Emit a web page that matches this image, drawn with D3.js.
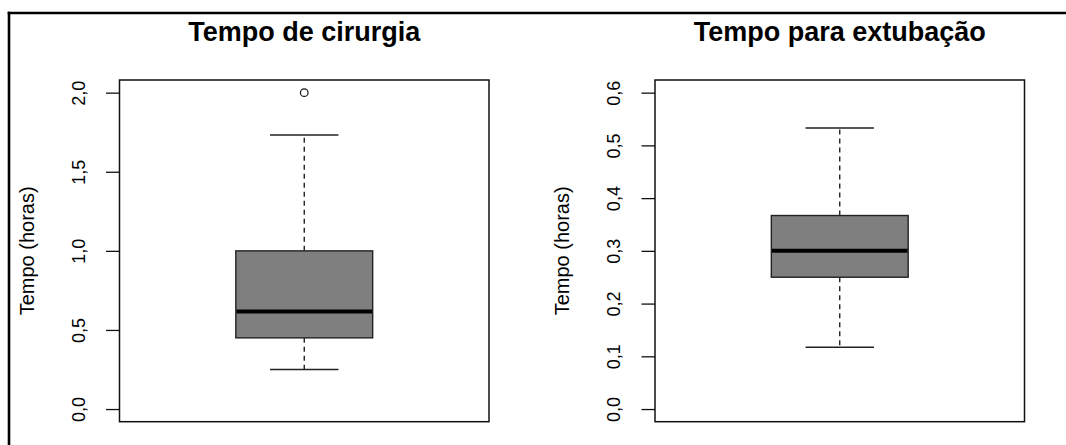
<!DOCTYPE html>
<head>
<meta charset="utf-8">
<style>
body, html {
  margin: 0;
  overflow: hidden;
  background: #fff;
  font-family: "Liberation Sans", Arial, sans-serif;
}
svg { display: block; }
.frame { stroke: #000; stroke-width: 2.6; }
.plotbox { fill: none; stroke: #111; stroke-width: 1.5; }
.tick line { stroke: #111; stroke-width: 1.3; }
.whisker { stroke: #111; stroke-width: 1.3; stroke-dasharray: 5,4; }
.cap { stroke: #222; stroke-width: 1.5; }
.box { fill: #7f7f7f; stroke: #222; stroke-width: 1.4; }
.median { stroke: #000; stroke-width: 4; }
.outlier { fill: none; stroke: #111; stroke-width: 1.2; }
</style>
<script src="https://d3js.org/d3.v7.min.js"></script>
</head>
<body>
<script>

//--------------------------------------
// values (hours)
var titles = ["Tempo de cirurgia", "Tempo para extubação"];
var yLabel = "Tempo (horas)";
var lowerWhisker = [0.25, 0.117];
var q1 = [0.45, 0.25];
var median = [0.617, 0.3];
var q3 = [1.0, 0.367];
var upperWhisker = [1.733, 0.533];
var outliers = [[2.0], []];
var yMax = [2.0, 0.6];
var yTicks = [[0, 0.5, 1.0, 1.5, 2.0], [0, 0.1, 0.2, 0.3, 0.4, 0.5, 0.6]];

//--------------------------------------
var width = 1066, height = 445;
var plotLeft = [119.5, 655],
    plotWidth = 369.5,
    plotTop = 80,
    plotBottom = 421.7;

var ptBR = d3.formatLocale({decimal: ",", thousands: ".", grouping: [3], currency: ["R$", ""]});
var fmt = ptBR.format(".1f");

var svg = d3.select("body").append("svg")
    .attr("width", width)
    .attr("height", height);

// border of the pasted figure: only top and left edges are inside the crop
svg.append("line").attr("class", "frame")
    .attr("x1", 9).attr("x2", 9)
    .attr("y1", 11.7).attr("y2", height);
svg.append("line").attr("class", "frame")
    .attr("x1", 7.7).attr("x2", width)
    .attr("y1", 13).attr("y2", 13);

//--------------------------------------
function drawPanel(i) {
  var x0 = plotLeft[i];
  var pad = yMax[i] * 0.04;

  var y = d3.scaleLinear()
      .domain([-pad, yMax[i] + pad])
      .range([plotBottom, plotTop]);
  var x = d3.scaleLinear()
      .domain([0.46, 1.54])
      .range([x0, x0 + plotWidth]);

  var g = svg.append("g");

  // title
  g.append("text")
      .attr("x", x(1))
      .attr("y", 41)
      .attr("text-anchor", "middle")
      .style("font-weight", "bold")
      .style("font-size", "27px")
      .text(titles[i]);

  // y axis
  var axis = d3.axisLeft(y)
      .tickValues(yTicks[i])
      .tickFormat(fmt)
      .tickSize(13.5)
      .tickPadding(0);
  var ax = g.append("g")
      .attr("transform", "translate(" + x0 + ",0)")
      .call(axis);
  ax.select(".domain").remove();
  ax.selectAll(".tick text")
      .attr("x", null).attr("dy", null)
      .attr("transform", "translate(-35,0) rotate(-90)")
      .attr("text-anchor", "middle")
      .attr("fill", "#000")
      .style("font-family", "'Liberation Sans', Arial, sans-serif")
      .style("font-size", "18px");

  g.append("text")
      .attr("transform", "translate(" + (x0 - 86) + "," + ((plotTop + plotBottom) / 2) + ") rotate(-90)")
      .attr("text-anchor", "middle")
      .style("font-size", "20px")
      .text(yLabel);

  // whiskers
  g.append("line").attr("class", "whisker")
      .attr("x1", x(1)).attr("x2", x(1))
      .attr("y1", y(q3[i])).attr("y2", y(upperWhisker[i]));
  g.append("line").attr("class", "whisker")
      .attr("x1", x(1)).attr("x2", x(1))
      .attr("y1", y(q1[i])).attr("y2", y(lowerWhisker[i]));
  [lowerWhisker[i], upperWhisker[i]].forEach(function(v) {
    g.append("line").attr("class", "cap")
        .attr("x1", x(0.9)).attr("x2", x(1.1))
        .attr("y1", y(v)).attr("y2", y(v));
  });

  // box and median
  g.append("rect").attr("class", "box")
      .attr("x", x(0.8))
      .attr("width", x(1.2) - x(0.8))
      .attr("y", y(q3[i]))
      .attr("height", y(q1[i]) - y(q3[i]));
  g.append("line").attr("class", "median")
      .attr("x1", x(0.8) + 0.7).attr("x2", x(1.2) - 0.7)
      .attr("y1", y(median[i])).attr("y2", y(median[i]));

  // outliers
  g.selectAll("circle.outlier")
      .data(outliers[i])
      .enter().append("circle")
      .attr("class", "outlier")
      .attr("cx", x(1))
      .attr("cy", function(d) { return y(d); })
      .attr("r", 3.8);

  // plot frame
  g.append("rect").attr("class", "plotbox")
      .attr("x", x0).attr("y", plotTop)
      .attr("width", plotWidth).attr("height", plotBottom - plotTop);
}

drawPanel(0);
drawPanel(1);

</script>
</body>
</html>
